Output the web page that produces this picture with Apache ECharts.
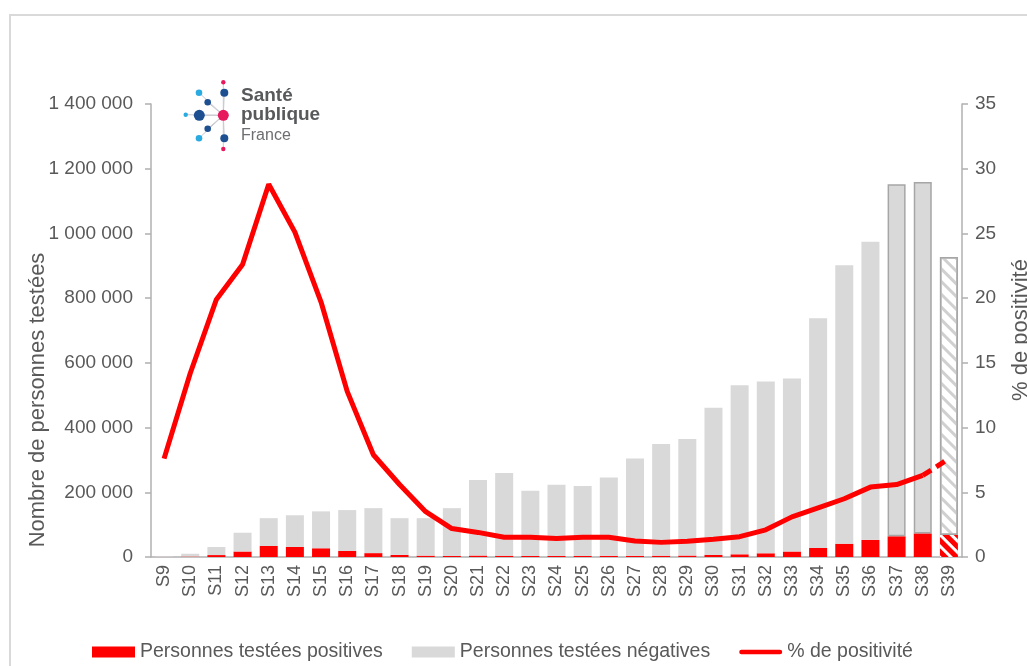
<!DOCTYPE html>
<html>
<head>
<meta charset="utf-8">
<script src="https://cdn.jsdelivr.net/npm/echarts@6/dist/echarts.min.js"></script>
<style>
html,body{margin:0;padding:0;background:#fff;}
#chart{width:1027px;height:666px;}
</style>
</head>
<body>
<div id="chart"></div>
<script>
// ---- data ----
const weeks = ['S9','S10','S11','S12','S13','S14','S15','S16','S17','S18','S19','S20','S21','S22','S23','S24','S25','S26','S27','S28','S29','S30','S31','S32','S33','S34','S35','S36','S37','S38','S39'];
const positives = [200,1400,6000,17000,34000,31000,27000,18500,12000,6500,4200,3300,4400,3900,3100,3200,3300,3700,3700,4000,4400,6500,8300,11500,17000,28000,41000,53000,64000,73000,68000];
const negatives = [1800,8600,25000,58000,86000,98000,114000,126500,139000,113500,115800,147700,233600,256000,202000,220000,216000,242000,301000,345000,360000,454500,522700,530500,535000,710000,861000,921000,1088000,1086000,859000];
const positivity = [7.6,14.2,19.9,22.6,28.8,25.1,19.7,12.8,7.9,5.6,3.5,2.2,1.9,1.52,1.52,1.42,1.52,1.52,1.24,1.13,1.21,1.37,1.57,2.1,3.1,3.8,4.5,5.4,5.6,6.3,7.6];
const leftTicks = [0, 200000, 400000, 600000, 800000, 1000000, 1200000, 1400000];
const rightTicks = [0,5,10,15,20,25,30,35];

const FONT = 'Liberation Sans, Arial, sans-serif';
const TXT = '#595959';
const last = weeks.length - 1;

const posData = positives.map((v, i) => i === last ? {
  value: v,
  itemStyle: { color: '#ff0000', decal: { symbol: 'rect', color: '#ffffff', dashArrayX: [1, 0], dashArrayY: [3, 5], rotation: Math.PI / 4 } }
} : v);
const negData = negatives.map((v, i) => {
  if (i === last) return {
    value: v,
    itemStyle: { color: '#ffffff', borderColor: '#a6a6a6', borderWidth: 1.5, decal: { symbol: 'rect', color: '#d0d0d0', dashArrayX: [1, 0], dashArrayY: [2.5, 6], rotation: Math.PI / 4 } }
  };
  if (i === last - 1 || i === last - 2) return { value: v, itemStyle: { borderColor: '#a6a6a6', borderWidth: 1.5 } };
  return v;
});
const lineSolid = positivity.map((v, i) => i === last ? null : v);
const lineDash = positivity.map((v, i) => i >= last - 1 ? v : null);

const fmt = v => String(v).replace(/\B(?=(\d{3})+(?!\d))/g, ' ');

const chart = echarts.init(document.getElementById('chart'), null, { renderer: 'canvas' });

// logo circles (Santé publique France)
const cx = 223.3, cy = 115.3;
const dots = [
  [223.3, 82.3, 2.2, '#e6195f'],
  [224.3, 92.7, 4, '#1d4f91'],
  [199, 92.7, 3.3, '#29abe2'],
  [207.7, 102.3, 3.3, '#1d4f91'],
  [185.7, 114.7, 2.2, '#29abe2'],
  [199.3, 115.3, 5.5, '#1d4f91'],
  [207.7, 128.7, 3.3, '#1d4f91'],
  [199, 138.3, 3.3, '#29abe2'],
  [224.3, 138.3, 4, '#1d4f91'],
  [223.3, 149, 2.2, '#e6195f']
];
const logo = [];
dots.forEach(d => logo.push({ type: 'line', shape: { x1: cx, y1: cy, x2: d[0], y2: d[1] }, style: { stroke: '#c8c8d0', lineWidth: 1 }, z: 10 }));
dots.forEach(d => logo.push({ type: 'circle', shape: { cx: d[0], cy: d[1], r: d[2] }, style: { fill: d[3] }, z: 11 }));
logo.push({ type: 'circle', shape: { cx: cx, cy: cy, r: 5.5 }, style: { fill: '#e6195f' }, z: 11 });
logo.push({ type: 'text', x: 241, y: 96, style: { text: 'Santé', font: 'bold 19px ' + FONT, fill: '#58595b', verticalAlign: 'middle' }, z: 11 });
logo.push({ type: 'text', x: 241, y: 115, style: { text: 'publique', font: 'bold 19px ' + FONT, fill: '#58595b', verticalAlign: 'middle' }, z: 11 });
logo.push({ type: 'text', x: 241, y: 136, style: { text: 'France', font: '16px ' + FONT, fill: '#6d6e71', verticalAlign: 'middle' }, z: 11 });

chart.setOption({
  animation: false,
  backgroundColor: '#ffffff',
  textStyle: { fontFamily: FONT },
  grid: { left: 151, right: 65, top: 104, bottom: 109, containLabel: false },
  legend: {
    left: 87, top: 637,
    itemWidth: 43, itemHeight: 11, itemGap: 29,
    textStyle: { fontSize: 19.5, color: TXT, fontFamily: FONT },
    data: [
      { name: 'Personnes testées positives', icon: 'rect' },
      { name: 'Personnes testées négatives', icon: 'rect' },
      { name: '% de positivité', icon: 'path://M2.5,0 L45.5,0 A2.5,2.5 0 0 1 45.5,5 L2.5,5 A2.5,2.5 0 0 1 2.5,0 Z' }
    ]
  },
  xAxis: {
    type: 'category',
    data: weeks,
    axisLine: { lineStyle: { color: '#b0b0b0', width: 1.5 } },
    axisTick: { show: false },
    axisLabel: { rotate: 90, color: TXT, fontSize: 18, margin: 8, interval: 0 }
  },
  yAxis: [
    {
      type: 'value', min: leftTicks[0], max: leftTicks[leftTicks.length - 1], interval: 200000,
      axisLine: { show: true, lineStyle: { color: '#b0b0b0', width: 1.5 } },
      axisTick: { show: true, length: 6, lineStyle: { color: '#b0b0b0', width: 1.5 } },
      splitLine: { show: false },
      axisLabel: { color: TXT, fontSize: 19, margin: 18, formatter: fmt }
    },
    {
      type: 'value', min: rightTicks[0], max: rightTicks[rightTicks.length - 1], interval: 5,
      position: 'right',
      axisLine: { show: true, lineStyle: { color: '#b0b0b0', width: 1.5 } },
      axisTick: { show: true, length: 6, lineStyle: { color: '#b0b0b0', width: 1.5 } },
      splitLine: { show: false },
      axisLabel: { color: TXT, fontSize: 19, margin: 13 }
    }
  ],
  series: [
    {
      name: 'Personnes testées positives', type: 'bar', stack: 'tot', barWidth: 18,
      itemStyle: { color: '#ff0000' }, data: posData, z: 2
    },
    {
      name: 'Personnes testées négatives', type: 'bar', stack: 'tot', barWidth: 18,
      itemStyle: { color: '#d9d9d9' }, data: negData, z: 2
    },
    {
      name: '% de positivité', type: 'line', yAxisIndex: 1, symbol: 'none',
      lineStyle: { color: '#ff0000', width: 5 }, itemStyle: { color: '#ff0000' },
      data: lineSolid, z: 5
    },
    {
      name: '% de positivité', type: 'line', yAxisIndex: 1, symbol: 'none',
      lineStyle: { color: '#ff0000', width: 5, type: [10, 6] }, itemStyle: { color: '#ff0000' },
      data: lineDash, z: 5
    }
  ],
  graphic: [
    { type: 'rect', shape: { x: 10, y: 15, width: 1100, height: 700 }, style: { fill: 'none', stroke: '#d9d9d9', lineWidth: 2 }, z: 0, silent: true },
    { type: 'text', x: 38, y: 400, rotation: Math.PI / 2, style: { text: 'Nombre de personnes testées', font: '22px ' + FONT, fill: TXT, align: 'center', verticalAlign: 'middle' }, z: 10 },
    { type: 'text', x: 1021, y: 330, rotation: Math.PI / 2, style: { text: '% de positivité', font: '22px ' + FONT, fill: TXT, align: 'center', verticalAlign: 'middle' }, z: 10 }
  ].concat(logo)
});
</script>
</body>
</html>
